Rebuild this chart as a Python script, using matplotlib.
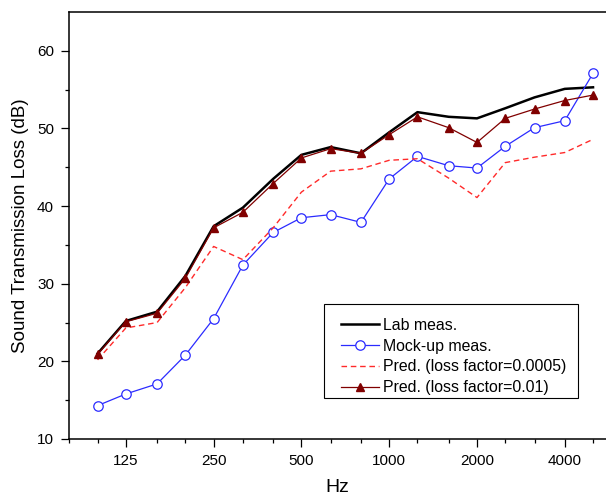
import numpy as np
import matplotlib
matplotlib.use("Agg")
import matplotlib.pyplot as plt
from matplotlib.patches import Rectangle
from matplotlib.ticker import FixedLocator, FixedFormatter, NullFormatter

plt.rcParams['font.family'] = ['Liberation Sans', 'DejaVu Sans']

# 1/3-Oktav-Mittenfrequenzen (Hz)
freq = [100, 125, 160, 200, 250, 315, 400, 500, 630, 800,
        1000, 1250, 1600, 2000, 2500, 3150, 4000, 5000]

# Schalldämmmaß (dB)
lab_meas = [21.0, 25.2, 26.4, 31.0, 37.4, 39.8, 43.5, 46.6, 47.6, 46.8,
            49.5, 52.1, 51.5, 51.3, 52.6, 54.0, 55.1, 55.3]
mockup_meas = [14.3, 15.8, 17.1, 20.8, 25.5, 32.4, 36.6, 38.5, 38.9, 37.9,
               43.5, 46.4, 45.2, 44.9, 47.7, 50.1, 51.0, 57.1]
pred_0005 = [20.2, 24.3, 25.0, 29.5, 34.8, 33.1, 37.2, 41.8, 44.5, 44.8,
             45.9, 46.1, 43.6, 41.1, 45.6, 46.3, 46.9, 48.6]
pred_001 = [20.9, 25.1, 26.2, 30.7, 37.2, 39.2, 42.9, 46.2, 47.4, 46.8,
            49.2, 51.5, 50.1, 48.2, 51.3, 52.5, 53.6, 54.3]

major_ticks = [125, 250, 500, 1000, 2000, 4000]
minor_ticks = [80, 100, 160, 200, 315, 400, 630, 800, 1250, 1600, 2500, 3150, 5000]

W, H = 606, 503
fig = plt.figure(figsize=(W / 100, H / 100), dpi=100)
ax = fig.add_axes([69.3 / W, (H - 439) / H, (606 - 69.3) / W, (439 - 12) / H])

ax.plot(freq, lab_meas, color='black', lw=1.8, label='Lab meas.')
ax.plot(freq, mockup_meas, color='#2b2bff', lw=0.9, marker='o', ms=6.8,
        mfc='white', mec='#2b2bff', mew=0.9, label='Mock-up meas.')
ax.plot(freq, pred_0005, color='#ff2a2a', lw=1.0, dashes=(4, 2.7),
        label='Pred. (loss factor=0.0005)')
ax.plot(freq, pred_001, color='#800000', lw=0.9, marker='^', ms=5.5,
        label='Pred. (loss factor=0.01)')

ax.set_xscale('log')
ax.set_xlim(80, 4000 * 2 ** ((606 - 565) / 87.3))
ax.set_ylim(10, 65)

ax.xaxis.set_major_locator(FixedLocator(major_ticks))
ax.xaxis.set_major_formatter(FixedFormatter([str(t) for t in major_ticks]))
ax.xaxis.set_minor_locator(FixedLocator(minor_ticks))
ax.xaxis.set_minor_formatter(NullFormatter())

ax.set_yticks([10, 20, 30, 40, 50, 60])
ax.set_yticks([15, 25, 35, 45, 55], minor=True)

for s in ['left', 'bottom', 'top']:
    ax.spines[s].set_linewidth(1.1)
ax.spines['right'].set_visible(False)

ax.tick_params(which='major', direction='out', length=6, width=0.9,
               labelsize=11, pad=5)
ax.tick_params(which='minor', direction='out', length=3, width=0.9)
ax.tick_params(top=False, right=False, which='both')

ax.set_xlabel('Hz', fontsize=14, labelpad=8)
ax.set_ylabel('Sound Transmission Loss (dB)', fontsize=13.5, labelpad=6)

# Legendenrahmen separat (Text sitzt im Original etwas tiefer im Kasten)
frame = Rectangle((324 / W, 1 - 398 / H), (578 - 324) / W, (398 - 304) / H,
                  transform=fig.transFigure, facecolor='white',
                  edgecolor='black', lw=0.8, zorder=4)
fig.add_artist(frame)

leg = ax.legend(loc='upper left', bbox_to_anchor=(341.3 / W, 1 - 318 / H),
                bbox_transform=fig.transFigure, fontsize=11.4,
                frameon=False, handlelength=2.39, handletextpad=0.25,
                labelspacing=0.36, borderpad=0, borderaxespad=0)
leg.set_zorder(5)
fig.add_artist(leg)

plt.savefig('out.png', dpi=100)
